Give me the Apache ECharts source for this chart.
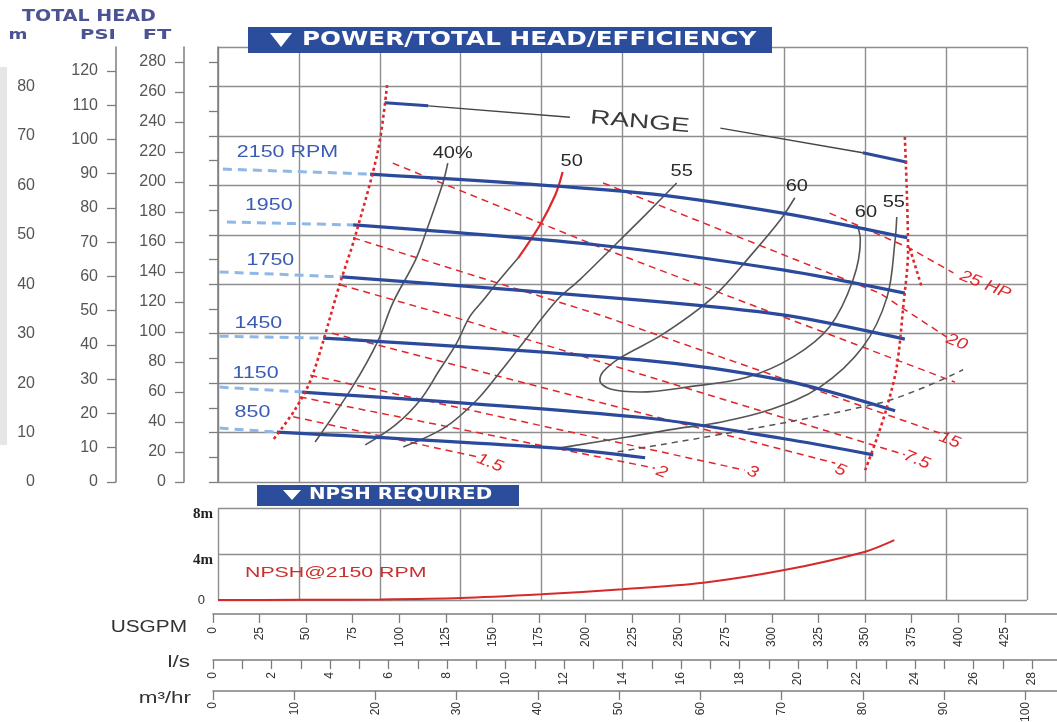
<!DOCTYPE html>
<html>
<head>
<meta charset="utf-8">
<title>Power / Total Head / Efficiency</title>
<script src="https://cdn.jsdelivr.net/npm/echarts@6.0.0/dist/echarts.min.js"></script>
<style>
  html, body { margin: 0; padding: 0; background: #fff; }
  #chart { width: 1057px; height: 722px; }
</style>
</head>
<body>
<div id="chart"></div>
<script>
// main chart: x = flow (m3/hr), y = total head (m)
const headMTicks = [0, 5, 10, 15, 20, 25, 30, 35, 40, 45, 50, 55, 60, 65, 70, 75, 80, 85]
const headMLabels = [0, 10, 20, 30, 40, 50, 60, 70, 80]
const headPsiTicks = [0, 10, 20, 30, 40, 50, 60, 70, 80, 90, 100, 110, 120]
const headFtTicks = [0, 20, 40, 60, 80, 100, 120, 140, 160, 180, 200, 220, 240, 260, 280]
const npshTicks = [0, 4, 8]
const gpmTicks = [0, 25, 50, 75, 100, 125, 150, 175, 200, 225, 250, 275, 300, 325, 350, 375, 400, 425]
const lpsTicks = [0, 1, 2, 3, 4, 5, 6, 7, 8, 9, 10, 11, 12, 13, 14, 15, 16, 17, 18, 19, 20, 21, 22, 23, 24, 25, 26, 27, 28]
const lpsLabels = [0, 2, 4, 6, 8, 10, 12, 14, 16, 18, 20, 22, 24, 26, 28]
const m3hTicks = [0, 10, 20, 30, 40, 50, 60, 70, 80, 90, 100]

// speed curves
const speedNames = ['2150 RPM', '1950', '1750', '1450', '1150', '850']
const speed2150 = [[18.8, 62.3], [52.2, 58.5], [69.8, 54.4], [85.2, 49.4]]
const speed1950 = [[16.7, 52.0], [47.2, 47.9], [69.8, 42.9], [84.9, 38.2]]
const speed1750 = [[15.3, 41.5], [52.2, 36.8], [69.8, 33.8], [84.9, 28.9]]
const speed1450 = [[13.0, 29.1], [52.2, 24.7], [69.8, 20.6], [83.7, 14.4]]
const speed1150 = [[10.4, 18.2], [52.2, 13.1], [69.8, 8.8], [81.0, 5.5]]
const speed850 = [[7.3, 10.1], [41.4, 6.9], [52.8, 4.9]]
// dashed lead-ins left of the operating range
const lead2150 = [[0.6, 63.3], [18.8, 62.3]]
const lead1950 = [[1.1, 52.6], [16.7, 52.0]]
const lead1750 = [[0.2, 42.5], [15.3, 41.5]]
const lead1450 = [[0.2, 29.5], [13.0, 29.1]]
const lead1150 = [[0.2, 19.2], [10.4, 18.2]]
const lead850 = [[0.2, 10.9], [7.3, 10.1]]

// operating range limits
const rangeLeft = [[20.9, 80.3], [19.8, 67.2], [16.9, 49.4], [15.1, 40.3], [11.6, 21.2], [9.5, 14.6], [6.8, 8.5]]
const rangeRight = [[84.9, 69.8], [85.3, 46.9], [84.7, 35.4], [83.9, 23.3], [82.7, 15.2], [81.5, 9.1], [80.0, 2.4]]
const rangeTail = [[85.5, 47.3], [87.0, 39.4]]
const rangeMarkLeft = [[20.6, 76.7], [26.0, 76.1]]
const rangePointerLeft = [[26.0, 76.1], [43.5, 73.8]]
const rangePointerRight = [[62.1, 71.6], [79.7, 66.6]]
const rangeMarkRight = [[79.7, 66.6], [85.2, 64.7]]

// power lines (HP)
const hpNames = ['25 HP', '20', '', '15', '7.5', '5', '3', '2', '1.5']
const hp25 = [[75.6, 54.4], [85.5, 47.3], [90.9, 42.3]]
const hp20 = [[47.6, 60.5], [81.8, 38.2], [90.1, 29.3]]
const hpUnmarked = [[21.6, 64.5], [47.2, 47.5], [91.1, 20.2]]
const hp15 = [[16.7, 49.4], [47.2, 33.8], [89.2, 9.9]]
const hp7_5 = [[15.1, 39.9], [29.5, 33.2], [84.9, 5.5]]
const hp5 = [[14.1, 30.1], [76.3, 3.8]]
const hp3 = [[11.4, 21.6], [65.1, 2.4]]
const hp2 = [[10.1, 17.2], [54.0, 2.8]]
const hp1_5 = [[9.3, 13.2], [32.0, 5.1]]

// efficiency curves
const effNames = ['40%', '50', '55', '60', '60', '55']
const eff40 = [[28.4, 64.5], [27.8, 60.5], [25.8, 51.0], [24.4, 44.9], [21.6, 36.2], [19.7, 28.3], [16.6, 19.2], [12.0, 8.1]]
const eff50Upper = [[42.6, 62.7], [41.7, 58.1], [39.8, 52.0], [37.1, 45.3]]
const eff50Lower = [[37.1, 45.3], [34.5, 40.3], [32.8, 36.8], [31.1, 33.4], [29.5, 28.1], [27.4, 22.7], [25.0, 16.6], [21.9, 11.5], [18.2, 7.5]]
const eff55Left = [[56.7, 60.5], [52.8, 54.0], [48.8, 47.5], [44.7, 40.9], [41.9, 36.8], [37.3, 27.3], [34.9, 22.3], [32.0, 16.6], [28.1, 11.1], [22.9, 7.1]]
const eff60 = [[71.3, 57.5], [69.5, 53.0], [66.1, 46.3], [61.2, 37.4], [55.0, 29.9], [49.7, 25.1], [47.6, 22.3], [47.2, 20.6], [48.5, 18.8], [52.2, 18.2], [58.0, 19.2], [65.4, 21.2], [71.1, 25.3], [75.6, 31.4], [78.5, 40.9], [79.4, 49.0], [79.1, 51.6]]
const eff55Right = [[83.9, 53.6], [83.7, 49.0], [82.7, 37.4], [79.7, 27.3], [74.4, 19.2], [68.2, 14.6], [62.1, 12.1], [57.1, 10.9], [50.6, 9.1], [42.3, 6.9]]
const effDashed = [[49.4, 6.1], [81.8, 16.0], [92.1, 22.7]]

// NPSH required @ 2150 rpm
const npshFlow = [0, 10, 20, 30, 40, 50, 60, 70, 80, 83.6]
const npshHead = [0, 0.02, 0.05, 0.17, 0.5, 0.93, 1.5, 2.6, 4.2, 5.2]

const BLUE = '#2b4a9b'
const LIGHT_BLUE = '#8fb8e6'
const RED = '#e0262b'
const GRAY = '#555'
const GRID = '#8e8e8e'
const AXIS = '#7d7d7d'
const SANS = '"Liberation Sans", Arial, sans-serif'
const WIDE = '"DejaVu Sans", "Liberation Sans", sans-serif'

const seriesList = []
function addLine(data, lineStyle, extra) {
  seriesList.push(Object.assign({
    type: 'line', xAxisIndex: 0, yAxisIndex: 0, data: data,
    symbol: 'none', silent: true, lineStyle: lineStyle, z: 3
  }, extra || {}))
  return seriesList.length - 1
}

const hpLines = [hp25, hp20, hpUnmarked, hp15, hp7_5, hp5, hp3, hp2, hp1_5]
const hpIdx = hpLines.map(d => addLine(d, { color: RED, width: 1.5, type: [7, 5] }, { z: 2 }))

const effSmooth = { smooth: 0.35 }
const e40 = addLine(eff40, { color: GRAY, width: 1.6 }, effSmooth)
const e50 = addLine(eff50Upper, { color: RED, width: 2.2 }, effSmooth)
addLine(eff50Lower, { color: GRAY, width: 1.6 }, effSmooth)
const e55 = addLine(eff55Left, { color: GRAY, width: 1.6 }, effSmooth)
const e60 = addLine(eff60, { color: GRAY, width: 1.6 }, effSmooth)
const e55r = addLine(eff55Right, { color: GRAY, width: 1.6 }, effSmooth)
addLine(effDashed, { color: GRAY, width: 1.5, type: [6, 5] }, effSmooth)

const leads = [lead2150, lead1950, lead1750, lead1450, lead1150, lead850]
const leadIdx = leads.map(d => addLine(d, { color: LIGHT_BLUE, width: 3, type: [9, 6] }, { z: 4 }))
const speeds = [speed2150, speed1950, speed1750, speed1450, speed1150, speed850]
speeds.forEach(d => addLine(d, { color: BLUE, width: 3.2 }, { z: 4, smooth: 0.3 }))

const dotted = { color: RED, width: 2.6, type: [3, 3] }
addLine(rangeLeft, dotted, { z: 5, smooth: 0.3 })
addLine(rangeRight, dotted, { z: 5, smooth: 0.3 })
addLine(rangeTail, dotted, { z: 5 })
addLine(rangeMarkLeft, { color: BLUE, width: 3 }, { z: 4 })
const rp = addLine(rangePointerLeft, { color: '#444', width: 1.4 })
addLine(rangePointerRight, { color: '#444', width: 1.4 })
addLine(rangeMarkRight, { color: BLUE, width: 3 }, { z: 4 })

const npshIdx = addLine(npshFlow.map((f, i) => [f, npshHead[i]]), { color: '#d62a2a', width: 2 },
  { xAxisIndex: 1, yAxisIndex: 4, smooth: 0.3 })

const gridSplit = { show: true, lineStyle: { color: GRID, width: 1.4 } }
const noAxis = { axisLine: { show: false }, axisTick: { show: false }, axisLabel: { show: false } }

function headAxis(offset, max, ticks, labels) {
  return {
    gridIndex: 0, type: 'value', position: 'left', offset: offset, min: 0, max: max,
    axisLine: { show: true, lineStyle: { color: AXIS, width: 1.5 } },
    axisTick: { show: true, customValues: ticks, length: 9, lineStyle: { color: AXIS, width: 1.3 } },
    axisLabel: { customValues: labels, margin: 18, fontSize: 16, color: '#555', fontFamily: SANS },
    splitLine: { show: false }
  }
}

function flowScale(gridIndex, max, ticks, labels, margin) {
  return {
    gridIndex: gridIndex, type: 'value', position: 'bottom', min: 0, max: max,
    axisLine: { show: true, onZero: false, lineStyle: { color: AXIS, width: 1.5 } },
    axisTick: { show: true, customValues: ticks, length: 9, lineStyle: { color: AXIS, width: 1.3 } },
    axisLabel: { customValues: labels, rotate: 90, margin: margin, fontSize: 12, color: '#333',
      fontFamily: SANS, hideOverlap: false },
    splitLine: { show: false }
  }
}

const option = {
  animation: false,
  backgroundColor: '#fff',
  grid: [
    { left: 218, right: 30, top: 47, height: 435, outerBoundsMode: 'none' },
    { left: 218, right: 30, top: 508, height: 92, outerBoundsMode: 'none' },
    { left: 213, right: 0, top: 613, height: 1, outerBoundsMode: 'none' },
    { left: 213, right: 0, top: 659, height: 1, outerBoundsMode: 'none' },
    { left: 213, right: 0, top: 690, height: 1, outerBoundsMode: 'none' }
  ],
  xAxis: [
    Object.assign({ gridIndex: 0, type: 'value', min: 0, max: 100, interval: 10, splitLine: gridSplit }, noAxis),
    Object.assign({ gridIndex: 1, type: 'value', min: 0, max: 100, interval: 10, splitLine: gridSplit }, noAxis),
    flowScale(2, 453, gpmTicks, gpmTicks, 13),
    flowScale(3, 28.85, lpsTicks, lpsLabels, 12),
    flowScale(4, 103.9, m3hTicks, m3hTicks, 11)
  ],
  yAxis: [
    headAxis(165, 88, headMTicks, headMLabels),
    headAxis(102, 127, headPsiTicks, headPsiTicks),
    headAxis(34, 290, headFtTicks, headFtTicks),
    Object.assign({ gridIndex: 0, type: 'value', min: 0, max: 88, interval: 10, splitLine: gridSplit }, noAxis),
    {
      gridIndex: 1, type: 'value', min: 0, max: 8, interval: 4,
      axisLine: { show: false }, axisTick: { show: false },
      axisLabel: {
        customValues: npshTicks, margin: 5,
        formatter: v => v === 0 ? '{z|0}' : '{u|' + v + 'm}',
        rich: {
          z: { fontSize: 13, color: '#333', fontFamily: SANS, padding: [0, 8, 0, 0] },
          u: { fontSize: 15, fontWeight: 'bold', color: '#222',
            fontFamily: '"Liberation Serif", "DejaVu Serif", serif', padding: [12, 0, 0, 0] }
        }
      },
      splitLine: gridSplit
    },
    { gridIndex: 2, type: 'value', min: 0, max: 1, show: false },
    { gridIndex: 3, type: 'value', min: 0, max: 1, show: false },
    { gridIndex: 4, type: 'value', min: 0, max: 1, show: false }
  ],
  series: seriesList
}

const chart = echarts.init(document.getElementById('chart'))
chart.setOption(option)

// fixed page furniture
const graphics = [
  { type: 'rect', shape: { x: 0, y: 67, width: 7, height: 378 }, style: { fill: '#e6e6e6' } },
  { type: 'text', x: 22, y: 17, scaleX: 1.27,
    style: { text: 'TOTAL HEAD', font: 'bold 15px ' + WIDE, fill: '#4b5394', align: 'left', verticalAlign: 'middle' } },
  { type: 'text', x: 18, y: 35, scaleX: 1.3,
    style: { text: 'm', font: 'bold 14px ' + WIDE, fill: '#4b5394', align: 'center', verticalAlign: 'middle' } },
  { type: 'text', x: 98, y: 35, scaleX: 1.4,
    style: { text: 'PSI', font: 'bold 14px ' + WIDE, fill: '#4b5394', align: 'center', verticalAlign: 'middle' } },
  { type: 'text', x: 157, y: 35, scaleX: 1.5,
    style: { text: 'FT', font: 'bold 14px ' + WIDE, fill: '#4b5394', align: 'center', verticalAlign: 'middle' } },
  { type: 'rect', shape: { x: 248, y: 27, width: 524, height: 26 }, style: { fill: '#2c4d9c' }, z: 20 },
  { type: 'polygon', shape: { points: [[270, 33], [292, 33], [281, 47]] }, style: { fill: '#fff' }, z: 21 },
  { type: 'text', x: 302, y: 40, scaleX: 1.3, z: 21,
    style: { text: 'POWER/TOTAL HEAD/EFFICIENCY', font: 'bold 19px ' + WIDE, fill: '#fff', align: 'left', verticalAlign: 'middle' } },
  { type: 'rect', shape: { x: 257, y: 485, width: 262, height: 21 }, style: { fill: '#2c4d9c' }, z: 20 },
  { type: 'polygon', shape: { points: [[283, 490], [301, 490], [292, 500]] }, style: { fill: '#fff' }, z: 21 },
  { type: 'text', x: 309, y: 495, scaleX: 1.32, z: 21,
    style: { text: 'NPSH REQUIRED', font: 'bold 15px ' + WIDE, fill: '#fff', align: 'left', verticalAlign: 'middle' } },
  { type: 'text', x: 187, y: 628, scaleX: 1.3,
    style: { text: 'USGPM', font: '16px ' + SANS, fill: '#333', align: 'right', verticalAlign: 'middle' } },
  { type: 'text', x: 190, y: 663, scaleX: 1.4,
    style: { text: 'l/s', font: '16px ' + SANS, fill: '#333', align: 'right', verticalAlign: 'middle' } },
  { type: 'text', x: 191, y: 699, scaleX: 1.4,
    style: { text: 'm³/hr', font: '16px ' + SANS, fill: '#333', align: 'right', verticalAlign: 'middle' } }
]

// text notes anchored to curve points
function note(seriesIndex, point, text, dx, dy, st) {
  const p = chart.convertToPixel({ seriesIndex: seriesIndex }, point)
  graphics.push({
    type: 'text', x: p[0] + dx, y: p[1] + dy, rotation: st.rot || 0, scaleX: st.sx || 1.25, z: 30,
    style: { text: text, font: st.font, fill: st.color, align: st.align || 'center', verticalAlign: 'middle' }
  })
}

const rpmOffsets = [[14, -17], [18, -17], [27, -12], [15, -13], [13, -14], [15, -16]]
speedNames.forEach((t, i) => note(leadIdx[i], leads[i][0], t, rpmOffsets[i][0], rpmOffsets[i][1],
  { font: '17px ' + SANS, color: '#3a5cb5', align: 'left', sx: 1.26 }))

const effAnchors = [[e40, eff40[0]], [e50, eff50Upper[0]], [e55, eff55Left[0]], [e60, eff60[0]],
  [e60, eff60[eff60.length - 1]], [e55r, eff55Right[0]]]
const effOffsets = [[5, -10], [9, -10], [5, -11], [2, -11], [8, -14], [-3, -14]]
effNames.forEach((t, i) => note(effAnchors[i][0], effAnchors[i][1], t, effOffsets[i][0], effOffsets[i][1],
  { font: '16px ' + SANS, color: '#2a2a2a', sx: 1.25 }))

const hpOffsets = [[32, 12], [10, 5], [0, 0], [10, 7], [12, 5], [5, 7], [8, 2], [7, 4], [13, 6]]
hpNames.forEach((t, i) => {
  if (!t) return
  const d = hpLines[i]
  note(hpIdx[i], d[d.length - 1], t, hpOffsets[i][0], hpOffsets[i][1],
    { font: 'italic 16px ' + SANS, color: RED, rot: -0.38, sx: 1.2 })
})

note(rp, rangePointerLeft[1], 'RANGE', 70, 5, { font: '20px ' + SANS, color: '#3a3a3a', rot: -0.09, sx: 1.4 })
note(npshIdx, [npshFlow[0], npshHead[0]], 'NPSH@2150 RPM', 27, -27,
  { font: '15px ' + SANS, color: '#c83030', align: 'left', sx: 1.42 })

chart.setOption({ graphic: graphics })
</script>
</body>
</html>
